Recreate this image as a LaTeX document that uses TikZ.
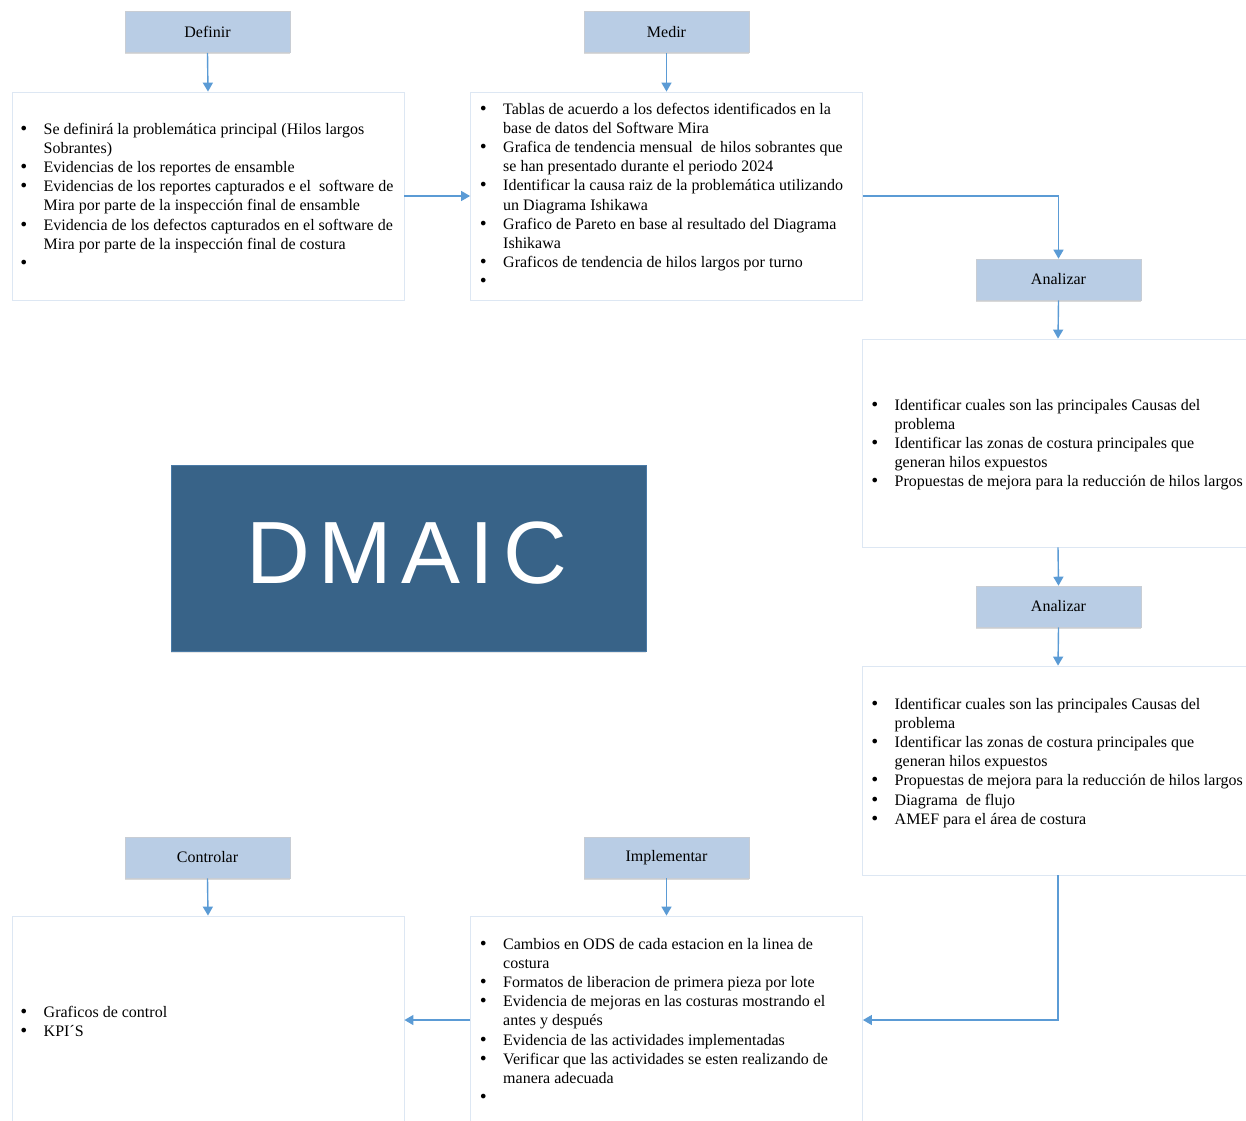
\documentclass[tikz,border=0pt]{standalone}
\usepackage{fontspec}
\setmainfont{Liberation Serif}
\newfontfamily\dmaicfont{Liberation Sans}
\newfontfamily\bulfont{DejaVu Sans}
\usetikzlibrary{arrows.meta,shadows}
\definecolor{hdrfill}{HTML}{B9CDE5}
\definecolor{hdrline}{HTML}{C8CDD4}
\definecolor{panelline}{HTML}{DDE7F3}
\definecolor{flow}{HTML}{5B9BD5}
\definecolor{dmaicblue}{HTML}{386388}
\definecolor{dmaicline}{HTML}{4A7AA6}
% bullet list set as a two-column table: bullet, then text
\newenvironment{blist}{\begin{tabular}[t]{@{}p{24.5pt}@{}l@{}}}{\end{tabular}}
\newcommand{\bul}{{\bulfont •}}

\begin{document}
\begin{tikzpicture}[x=1pt,y=-1pt,
  hdr/.style={draw=hdrline, line width=0.6pt, fill=hdrfill,
    minimum width=165pt, minimum height=41pt, inner sep=0pt,
    font=\fontsize{16}{19.2}\selectfont,
    drop shadow={shadow xshift=0pt, shadow yshift=-1.5pt, opacity=0.25, fill=black!60}},
  panel/.style={draw=panelline, line width=0.8pt, fill=white,
    minimum width=392pt, minimum height=208pt, inner sep=0pt},
  txt/.style={anchor=base west, inner sep=0pt, font=\fontsize{16}{19.2}\selectfont},
  flowline/.style={draw=flow, line width=1.4pt, -{Triangle[width=10pt,length=9pt]}}
]
\useasboundingbox (0,0) rectangle (1246,1120);

% step headers
\node[hdr] (def) at (207.5,32) {Definir};
\node[hdr] (med) at (666.5,32) {Medir};
\node[hdr] (anz) at (1058.5,279.5) {Analizar};
\node[hdr] (anzb) at (1058.5,606.5) {Analizar};
\node[hdr] (ctl) at (207.5,857.5) {Controlar};
\node[hdr] (imp) at (666.5,857.5) {Implementar};

% content panels
\node[panel] (defbox) at (208,196) {};
\node[panel] (medbox) at (666.5,196) {};
\node[panel] (anzbox) at (1058,443) {};
\node[panel, minimum height=209pt] (anzbbox) at (1058,770.5) {};
\node[panel] (ctlbox) at (208,1020) {};
\node[panel] (impbox) at (666.5,1020) {};

% central title block
\node[draw=dmaicline, line width=0.6pt, fill=dmaicblue, minimum width=475pt, minimum height=186pt,
  drop shadow={shadow xshift=0pt, shadow yshift=-1.5pt, opacity=0.2, fill=black!50}]
  (dmaic) at (408.5,558) {};
\node[inner sep=0pt, text=white, font=\dmaicfont\fontsize{88.4}{100}\selectfont] (dmaictxt) at (406.7,553.4)
  {D\hspace{9.1pt}M\hspace{9.1pt}A\hspace{9.1pt}I\hspace{9.1pt}C};

% panel texts
\node[txt] (deftxt) at (19,134) {\begin{blist}
\bul & Se definirá la problemática principal (Hilos largos\\
 & Sobrantes)\\
\bul & Evidencias de los reportes de ensamble\\
\bul & Evidencias de los reportes capturados e el\ \ software de\\
 & Mira por parte de la inspección final de ensamble\\
\bul & Evidencia de los defectos capturados en el software de\\
 & Mira por parte de la inspección final de costura\\
\bul & \\
\end{blist}};

\node[txt] (medtxt) at (478.5,114) {\begin{blist}
\bul & Tablas de acuerdo a los defectos identificados en la\\
 & base de datos del Software Mira\\
\bul & Grafica de tendencia mensual\ \ de hilos sobrantes que\\
 & se han presentado durante el periodo 2024\\
\bul & Identificar la causa raiz de la problemática utilizando\\
 & un Diagrama Ishikawa\\
\bul & Grafico de Pareto en base al resultado del Diagrama\\
 & Ishikawa\\
\bul & Graficos de tendencia de hilos largos por turno\\
\bul & \\
\end{blist}};

\node[txt] (anztxt) at (870,410) {\begin{blist}
\bul & Identificar cuales son las principales Causas del\\
 & problema\\
\bul & Identificar las zonas de costura principales que\\
 & generan hilos expuestos\\
\bul & Propuestas de mejora para la reducción de hilos largos\\
\end{blist}};

\node[txt] (anzbtxt) at (870,709) {\begin{blist}
\bul & Identificar cuales son las principales Causas del\\
 & problema\\
\bul & Identificar las zonas de costura principales que\\
 & generan hilos expuestos\\
\bul & Propuestas de mejora para la reducción de hilos largos\\
\bul & Diagrama\ \ de flujo\\
\bul & AMEF para el área de costura\\
\end{blist}};

\node[txt] (imptxt) at (478.5,949) {\begin{blist}
\bul & Cambios en ODS de cada estacion en la linea de\\
 & costura\\
\bul & Formatos de liberacion de primera pieza por lote\\
\bul & Evidencia de mejoras en las costuras mostrando el\\
 & antes y después\\
\bul & Evidencia de las actividades implementadas\\
\bul & Verificar que las actividades se esten realizando de\\
 & manera adecuada\\
\bul & \\
\end{blist}};

\node[txt] (ctltxt) at (19,1017) {\begin{blist}
\bul & Graficos de control\\
\bul & KPI´S\\
\end{blist}};

% connectors
\draw[flowline] (def.south) -- (defbox.north);
\draw[flowline] (med.south) -- (medbox.north);
\draw[flowline] (defbox.east) -- (medbox.west);
\draw[flowline] (medbox.east) -| (anz.north);
\draw[flowline] (anz.south) -- (anzbox.north);
\draw[flowline] (anzbox.south) -- (anzb.north);
\draw[flowline] (anzb.south) -- (anzbbox.north);
\draw[flowline] (anzbbox.south) |- (impbox.east);
\draw[flowline] (imp.south) -- (impbox.north);
\draw[flowline] (impbox.west) -- (ctlbox.east);
\draw[flowline] (ctl.south) -- (ctlbox.north);
\end{tikzpicture}
\end{document}
